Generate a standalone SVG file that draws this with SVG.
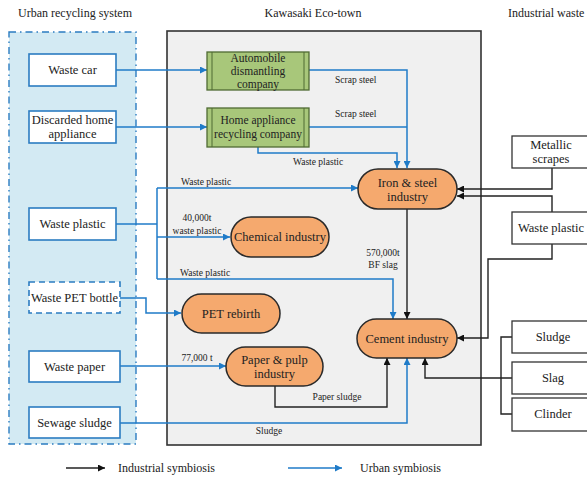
<svg xmlns="http://www.w3.org/2000/svg" width="587" height="477" viewBox="0 0 587 477" font-family="'Liberation Serif', 'DejaVu Serif', serif">
<style>
text{font-family:'Liberation Serif','DejaVu Serif',serif;fill:#222;}
.t{font-size:12px;}
.n{font-size:12.5px;text-anchor:middle;}
.l{font-size:9.5px;}
.lc{font-size:9.5px;text-anchor:middle;}
.ub{fill:#fff;stroke:#2b7cc1;stroke-width:1.6;}
.wb{fill:#fff;stroke:#333;stroke-width:1.3;}
.pill{fill:#f5a96e;stroke:#2a2a2a;stroke-width:1.5;}
.gb{fill:#a8c77a;stroke:#4f6b33;stroke-width:1.3;}
.bl{fill:none;stroke:#1f7bc8;stroke-width:1.5;}
.bk{fill:none;stroke:#222;stroke-width:1.4;}
</style>
<defs>
<marker id="ab" viewBox="0 0 10 10" refX="10" refY="5" markerWidth="7" markerHeight="7" markerUnits="userSpaceOnUse" orient="auto"><path d="M0,0 L10,5 L0,10 z" fill="#1f7bc8"/></marker>
<marker id="ak" viewBox="0 0 10 10" refX="10" refY="5" markerWidth="7" markerHeight="7" markerUnits="userSpaceOnUse" orient="auto"><path d="M0,0 L10,5 L0,10 z" fill="#111"/></marker>
</defs>
<rect width="587" height="477" fill="#fff"/>
<g id="titles">
<text class="t" x="18" y="17">Urban recycling system</text>
<text class="t" x="313" y="17" text-anchor="middle">Kawasaki Eco-town</text>
<text class="t" x="508" y="17">Industrial waste</text>
</g>
<g id="panels">
<rect x="9" y="32" width="127" height="412" fill="#d3eaf3" stroke="#2b7cc1" stroke-width="1.4" stroke-dasharray="7 4 1.5 4"/>
<rect x="167" y="31" width="314" height="414" fill="#f0f0f0" stroke="#333" stroke-width="1.6"/>
</g>
<g id="connectors">
<path class="bl" d="M116,70 H207" marker-end="url(#ab)"/>
<path class="bl" d="M116,127 H207" marker-end="url(#ab)"/>
<path class="bl" d="M309,70 H407 V168" marker-end="url(#ab)"/>
<path class="bl" d="M309,127 H407"/>
<path class="bl" d="M258,147 V153 H397 V168" marker-end="url(#ab)"/>
<path class="bl" d="M116,224 H157"/>
<path class="bl" d="M157,188 V279"/>
<path class="bl" d="M157,188 H358" marker-end="url(#ab)"/>
<path class="bl" d="M157,237 H230" marker-end="url(#ab)"/>
<path class="bl" d="M157,279 H393 V319" marker-end="url(#ab)"/>
<path class="bl" d="M120,298 H146 V313 H181" marker-end="url(#ab)"/>
<path class="bl" d="M120,366 H226" marker-end="url(#ab)"/>
<path class="bl" d="M119,423 H407 V358" marker-end="url(#ab)"/>
<path class="bk" d="M275,386 V407 H387 V358" marker-end="url(#ak)"/>
<path class="bk" d="M407,209 V319" marker-end="url(#ak)"/>
<path class="bk" d="M552,168 V189 H457" marker-end="url(#ak)"/>
<path class="bk" d="M552,212 V196 H457" marker-end="url(#ak)"/>
<path class="bk" d="M552,244 V259 H488 V338 H457" marker-end="url(#ak)"/>
<path class="bk" d="M512,337 H501 V414 H512"/>
<path class="bk" d="M512,378 H425 V358" marker-end="url(#ak)"/>
</g>
<g id="edge-labels">
<text class="l" x="335" y="83">Scrap steel</text>
<text class="l" x="335" y="117">Scrap steel</text>
<text class="l" x="293" y="165">Waste plastic</text>
<text class="l" x="181" y="185">Waste plastic</text>
<text class="lc" x="197" y="221">40,000t</text>
<text class="lc" x="197" y="234">waste plastic</text>
<text class="l" x="180" y="276">Waste plastic</text>
<text class="lc" x="383" y="256">570,000t</text>
<text class="lc" x="383" y="268">BF slag</text>
<text class="lc" x="197" y="361">77,000 t</text>
<text class="lc" x="337" y="400">Paper sludge</text>
<text class="lc" x="269" y="434">Sludge</text>
</g>
<g id="waste-car"><rect class="ub" x="29" y="54" width="87" height="32"/><text class="n" x="72.5" y="74">Waste car</text></g>
<g id="discarded-home-appliance"><rect class="ub" x="29" y="111" width="87" height="32"/><text class="n" x="72.5" y="124">Discarded home</text><text class="n" x="72.5" y="138">appliance</text></g>
<g id="waste-plastic-urban"><rect class="ub" x="29" y="208" width="87" height="32"/><text class="n" x="72.5" y="228">Waste plastic</text></g>
<g id="waste-pet-bottle"><rect x="29" y="282" width="91" height="31" fill="#fff" stroke="#2b7cc1" stroke-width="1.6" stroke-dasharray="6 4"/><text class="n" x="74.5" y="302">Waste PET bottle</text></g>
<g id="waste-paper"><rect class="ub" x="29" y="351" width="91" height="31"/><text class="n" x="74.5" y="371">Waste paper</text></g>
<g id="sewage-sludge"><rect class="ub" x="29" y="407" width="91" height="31"/><text class="n" x="74.5" y="427">Sewage sludge</text></g>
<g id="automobile-dismantling"><rect class="gb" x="207" y="52" width="102" height="38"/><line x1="212" y1="52" x2="212" y2="90" stroke="#4f6b33"/><line x1="304" y1="52" x2="304" y2="90" stroke="#4f6b33"/><text class="n" x="258" y="62" style="font-size:11.5px">Automobile</text><text class="n" x="258" y="75" style="font-size:11.5px">dismantling</text><text class="n" x="258" y="88" style="font-size:11.5px">company</text></g>
<g id="home-appliance-recycling"><rect class="gb" x="207" y="108" width="102" height="39"/><line x1="212" y1="108" x2="212" y2="147" stroke="#4f6b33"/><line x1="304" y1="108" x2="304" y2="147" stroke="#4f6b33"/><text class="n" x="258" y="124" style="font-size:11.5px">Home appliance</text><text class="n" x="258" y="138" style="font-size:11.5px">recycling company</text></g>
<g id="iron-steel"><rect class="pill" x="358" y="169" width="99" height="40" rx="20"/><text class="n" x="407.5" y="187">Iron &amp; steel</text><text class="n" x="407.5" y="201">industry</text></g>
<g id="chemical"><rect class="pill" x="231" y="217" width="98" height="40" rx="20"/><text class="n" x="280" y="241">Chemical industry</text></g>
<g id="pet-rebirth"><rect class="pill" x="182" y="294" width="98" height="39" rx="19.5"/><text class="n" x="231" y="318">PET rebirth</text></g>
<g id="paper-pulp"><rect class="pill" x="226" y="347" width="97" height="39" rx="19.5"/><text class="n" x="274.5" y="364">Paper &amp; pulp</text><text class="n" x="274.5" y="378">industry</text></g>
<g id="cement"><rect class="pill" x="357" y="319" width="100" height="39" rx="19.5"/><text class="n" x="407" y="343">Cement industry</text></g>
<g id="metallic-scrapes"><rect class="wb" x="512" y="136" width="90" height="32"/><text class="n" x="551" y="149">Metallic</text><text class="n" x="551" y="163">scrapes</text></g>
<g id="waste-plastic-industrial"><rect class="wb" x="512" y="212" width="90" height="32"/><text class="n" x="551" y="232">Waste plastic</text></g>
<g id="sludge"><rect class="wb" x="512" y="321" width="90" height="32"/><text class="n" x="553" y="341">Sludge</text></g>
<g id="slag"><rect class="wb" x="512" y="362" width="90" height="32"/><text class="n" x="553" y="382">Slag</text></g>
<g id="clinder"><rect class="wb" x="512" y="398" width="90" height="33"/><text class="n" x="553" y="418">Clinder</text></g>
<g id="legend">
<path class="bk" d="M66,468 H105" marker-end="url(#ak)"/>
<text class="t" x="118" y="472">Industrial symbiosis</text>
<path class="bl" d="M288,468 H342" marker-end="url(#ab)"/>
<text class="t" x="360" y="472">Urban symbiosis</text>
</g>
</svg>
